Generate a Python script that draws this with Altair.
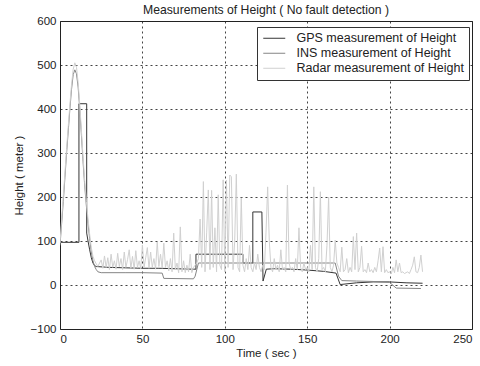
import altair as alt
import pandas as pd

# ---- data ----
series_names = ["GPS measurement of Height", "INS measurement of Height", "Radar measurement of Height"]
series_colors = ["#353535", "#858585", "#d0d0d0"]

gps_t = [0, 11.5, 11.5, 16.2, 16.2, 17, 18, 19, 20, 21, 22, 30, 40, 50, 60, 70, 80, 82.5,
         82.5, 111, 111, 117, 117, 122.5, 123.2, 125.2, 130, 140, 150, 160, 167.5, 170,
         180, 190, 200, 210, 220]
gps_v = [97, 97, 412, 412, 118, 100, 80, 62, 50, 44, 42, 40, 39, 38, 38, 37, 36, 36,
         70, 70, 50, 50, 166, 166, 9, 36, 37, 36, 34, 31, 27, 1,
         5, 7, 7, 5, 4]

ins_t = [0, 1, 2, 3, 4, 5, 6, 7, 8, 9, 10, 11, 12, 13, 14, 15, 16, 17, 18, 19, 20, 21,
         22, 23, 25, 40, 50, 62, 63, 81, 82, 84, 167, 169, 171, 180, 190, 200, 204, 219]
ins_v = [90, 140, 190, 245, 300, 350, 400, 445, 478, 489, 480, 450, 400, 340, 280, 225,
         180, 140, 105, 75, 55, 42, 35, 30, 28, 28, 28, 27, 15, 14, 20, 50, 50, 20, 10,
         9, 8, 6, -7, -8]

radar_v = [
    95, 150, 200, 255, 310, 360, 410, 455, 490, 505,                 # 0-9
    495, 460, 410, 350, 290, 235, 190, 150, 115, 85,                 # 10-19
    65, 55, 48, 42, 50, 57, 38, 66, 40, 62,                          # 20-29
    35, 70, 40, 55, 36, 72, 42, 60, 35, 75,                          # 30-39
    40, 58, 80, 38, 65, 36, 78, 40, 55, 37,                          # 40-49
    91, 40, 62, 85, 38, 75, 40, 60, 36, 98,                          # 50-59
    42, 70, 38, 95, 40, 55, 32, 60, 30, 118,                         # 60-69
    35, 50, 28, 132, 30, 55, 28, 45, 30, 70,                         # 70-79
    28, 40, 45, 50, 60, 150, 40, 235, 30, 120,                       # 80-89
    216, 35, 215, 40, 130, 30, 205, 45, 35, 239,                     # 90-99
    30, 238, 40, 250, 246, 35, 100, 252, 40, 30,                     # 100-109
    198, 45, 30, 60, 35, 90, 40, 30, 50, 35,                         # 110-119
    70, 40, 30, 45, 35, 120, 223, 100, 40, 30,                       # 120-129
    60, 35, 45, 30, 80, 35, 40, 30, 227, 50,                         # 130-139
    35, 40, 30, 60, 35, 130, 40, 30, 50, 35,                         # 140-149
    40, 30, 90, 35, 223, 40, 30, 60, 212, 35,                        # 150-159
    40, 30, 90, 200, 40, 30, 45, 102, 50, 40,                        # 160-169
    30, 86, 30, 35, 60, 28, 40, 30, 110, 35,                         # 170-179
    118, 30, 40, 88, 30, 35, 28, 50, 30, 35,                         # 180-189
    28, 40, 30, 55, 84, 30, 87, 28, 35, 28,                          # 190-199
    30, 25, 40, 28, 57, 30, 50, 28, 30, 26,                          # 200-209
    28, 30, 26, 35, 45, 64, 30, 28, 40, 68,                          # 210-219
    30,                                                              # 220
]
radar_t = list(range(len(radar_v)))

x_ticks = [0, 50, 100, 150, 200, 250]
y_ticks = [-100, 0, 100, 200, 300, 400, 500, 600]

# ---- table ----
rows = []
for name, ts, vs in zip(series_names, [gps_t, ins_t, radar_t], [gps_v, ins_v, radar_v]):
    for i, (t, v) in enumerate(zip(ts, vs)):
        rows.append({"series": name, "t": t, "v": v, "idx": i})
df = pd.DataFrame(rows)

FONT = "Liberation Sans"

chart = alt.Chart(df).mark_line(strokeWidth=1, clip=True).encode(
    x=alt.X("t:Q", scale=alt.Scale(domain=[0, 250], nice=False, zero=False),
            axis=alt.Axis(values=x_ticks, title="Time ( sec )", format="d")),
    y=alt.Y("v:Q", scale=alt.Scale(domain=[-100, 600], nice=False, zero=False),
            axis=alt.Axis(values=y_ticks, title="Height ( meter )", format="d")),
    color=alt.Color("series:N",
                    scale=alt.Scale(domain=series_names, range=series_colors),
                    sort=series_names,
                    legend=alt.Legend(title=None, orient="none", legendX=197, legendY=6,
                                      symbolType="M-2.2,0H2.2", symbolSize=100,
                                      symbolStrokeWidth=1, symbolOffset=6,
                                      labelFont=FONT, labelFontSize=12.5,
                                      labelOffset=16,
                                      labelColor="#222", padding=5, rowPadding=2,
                                      strokeColor="#333", fillColor="white",
                                      labelLimit=300)),
    detail="series:N",
    order=alt.Order("idx:Q"),
).properties(
    width=412, height=308,
    title=alt.TitleParams("Measurements of Height ( No fault detection )",
                          font=FONT, fontSize=12.2, fontWeight="normal",
                          color="#222", offset=-1),
    autosize=alt.AutoSizeParams(type="none"),
    padding={"left": 60, "top": 21, "right": 8, "bottom": 37},
).configure(
    background="white"
).configure_view(
    stroke="#222", strokeWidth=1, fill="white"
).configure_axis(
    grid=True, gridColor="#222", gridDash=[2, 3], gridOpacity=0.85, gridWidth=1,
    domain=False, ticks=False,
    labelFont=FONT, labelFontSize=11.5, labelColor="#222", labelPadding=4,
    titleFont=FONT, titleFontSize=11.5, titleFontWeight="normal", titleColor="#222",
).configure_axisX(
    titlePadding=3
).configure_axisY(
    titlePadding=6
)

chart.save("out.html", embed_options={"renderer": "svg", "actions": False})
